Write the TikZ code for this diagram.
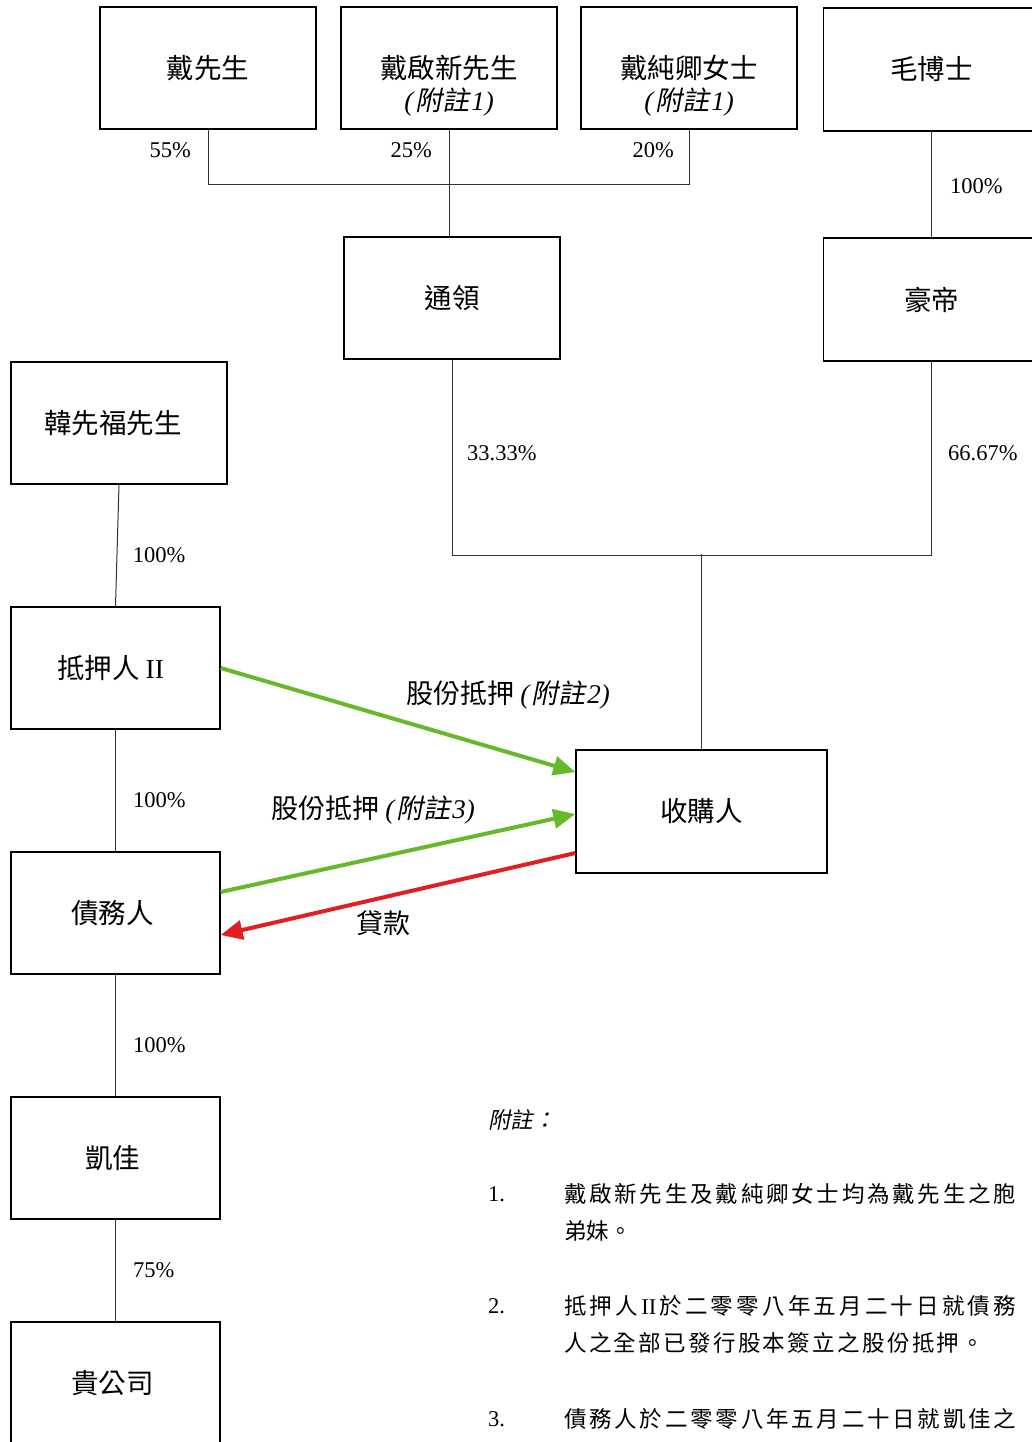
\documentclass[tikz,border=0pt]{standalone}
\usepackage{fontspec}
\setmainfont{Liberation Serif}
\newfontfamily\cjk{Noto Sans CJK TC}
\newfontfamily\cjkit[FakeSlant=0.2]{Noto Sans CJK TC}
\usetikzlibrary{arrows.meta}

\definecolor{pledgegreen}{RGB}{104,184,44}
\definecolor{loanred}{RGB}{226,30,36}

% (附註n) in slanted type
\newcommand{\fz}[1]{{\rmfamily\itshape(}\kern2pt{\cjkit 附註}\kern2pt{\rmfamily\itshape #1)}}
\newcommand{\romII}{\mbox{\rmfamily II}}
% spread a line of characters over a given width
\def\spreadchars#1{\ifx\relax#1\else#1\hfil\expandafter\spreadchars\fi}
\newcommand{\jline}[2][452pt]{\makebox[#1][s]{\spreadchars#2\relax\unskip}}

\begin{document}
\begin{tikzpicture}[x=1pt,y=1pt,>={Triangle[length=22pt,width=19pt]},
                    node distance=245pt]
  \tikzstyle{entity}=[draw=black,line width=1.3pt,minimum width=216pt,
                      minimum height=122pt,inner sep=0pt,
                      font=\fontsize{27.5}{32}\selectfont\cjk]
  \tikzstyle{pct}=[font=\fontsize{22.5}{27}\selectfont,inner sep=0pt]
  \tikzstyle{lbl}=[font=\fontsize{27}{32}\selectfont\cjk,inner sep=0pt]
  \tikzstyle{link}=[draw=black!80,line width=1pt]
  \tikzstyle{pledge}=[->,draw=pledgegreen,line width=4pt]
  \tikzstyle{loan}=[->,draw=loanred,line width=4pt]
  \tikzstyle{note}=[anchor=west,inner sep=0pt,font=\fontsize{22.5}{27}\selectfont\cjk]
  \tikzstyle{num}=[anchor=west,inner sep=0pt,font=\fontsize{22.5}{27}\selectfont]

  \useasboundingbox (0,0) rectangle (1032,-1442);
  \clip (0,0) rectangle (1032,-1442);

	\node[entity]	(0)	at (208,-68)	{戴先生};
	\node[entity]	(1)	[right of=0, node distance=241pt]	{戴啟新先生};
	\node[entity]	(2)	[right of=1, node distance=240pt]	{戴純卿女士};
	\node[entity, minimum height=123pt]	(3)	at (931.5,-69.5)	{毛博士};
	\node[lbl]	(1n)	at ([yshift=-34pt]1.center)	{\fz{1}};
	\node[lbl]	(2n)	at ([yshift=-34pt]2.center)	{\fz{1}};
	\node[entity]	(4)	at (452,-298)	{通領};
	\node[entity, minimum height=123pt]	(5)	[below of=3, node distance=230pt]	{豪帝};
	\node[entity]	(6)	at (119,-423)	{\hspace*{-12pt}韓先福先生};
	\node[entity, minimum width=209pt]	(7)	at (115.5,-668)	{\hspace*{-10pt}抵押人 {\rmfamily II}};
	\node[entity, minimum width=209pt]	(8)	[below of=7]	{\hspace*{-6pt}債務人};
	\node[entity, minimum width=209pt]	(9)	[below of=8]	{\hspace*{-6pt}凱佳};
	\node[entity, minimum width=209pt]	(10)	[below of=9, node distance=225pt]	{\hspace*{-6pt}貴公司};
	\node[entity, minimum width=251pt, minimum height=123pt]	(11)	at (701.5,-811.5)	{收購人};

	% shareholdings
	\draw[link] (0.south) -- ++(0,-55) -| (2.south);
	\draw[link] (1.south) -- (1.south |- 4.north);
	\node[pct, anchor=east]	(p0)	at ([xshift=-17pt,yshift=-21pt]0.south)	{55\%};
	\node[pct, anchor=east]	(p1)	at ([xshift=-17pt,yshift=-21pt]1.south)	{25\%};
	\node[pct, anchor=east]	(p2)	at ([xshift=-15pt,yshift=-21pt]2.south)	{20\%};
	\draw[link] (3.south) -- node[pct, anchor=west, xshift=18pt, yshift=-2pt] (p3) {100\%} (5.north);
	\draw[link] (4.south) -- ++(0,-196) -| (5.south);
	\draw[link] (11.north) -- ++(0,195);
	\node[pct, anchor=west]	(p4)	at (467,-453)	{33.33\%};
	\node[pct, anchor=west]	(p5)	at (948,-453)	{66.67\%};
	\draw[link] (6.south) -- node[pct, anchor=west, xshift=15pt, yshift=-10pt] (p6) {100\%} (7.north);
	\draw[link] (7.south) -- node[pct, anchor=west, xshift=17pt, yshift=-10pt] (p7) {100\%} (8.north);
	\draw[link] (8.south) -- node[pct, anchor=west, xshift=17pt, yshift=-10pt] (p8) {100\%} (9.north);
	\draw[link] (9.south) -- node[pct, anchor=west, xshift=17pt] (p9) {75\%} (10.north);

	% pledges and loan
	\draw[pledge] (7.east) -- ([yshift=39.5pt]11.west);
	\draw[pledge] ([yshift=21pt]8.east) -- ([yshift=-2.5pt]11.west);
	\draw[loan] ([yshift=-41.5pt]11.west) -- ([yshift=-22pt]8.east);
	\node[lbl]	(t2)	at (508,-695)	{股份抵押 \fz{2}};
	\node[lbl]	(t3)	at (373,-810)	{股份抵押 \fz{3}};
	\node[lbl]	(t4)	at (383,-923)	{貸款};

	% notes
	\node[note]	(n0)	at (488,-1120)	{\cjkit 附註：};
	\node[num]	(n1)	at (488,-1194)	{1.};
	\node[note]	(n1a)	at (564,-1194)	{\jline{戴啟新先生及戴純卿女士均為戴先生之胞}};
	\node[note]	(n1b)	at (564,-1231)	{\jline[66pt]{弟妹。}};
	\node[num]	(n2)	at (488,-1306)	{2.};
	\node[note]	(n2a)	at (564,-1306)	{\jline{抵押人\romII 於二零零八年五月二十日就債務}};
	\node[note]	(n2b)	at (564,-1343)	{\jline[420pt]{人之全部已發行股本簽立之股份抵押。}};
	\node[num]	(n3)	at (488,-1419)	{3.};
	\node[note]	(n3a)	at (564,-1419)	{\jline{債務人於二零零八年五月二十日就凱佳之}};

\end{tikzpicture}
\end{document}
